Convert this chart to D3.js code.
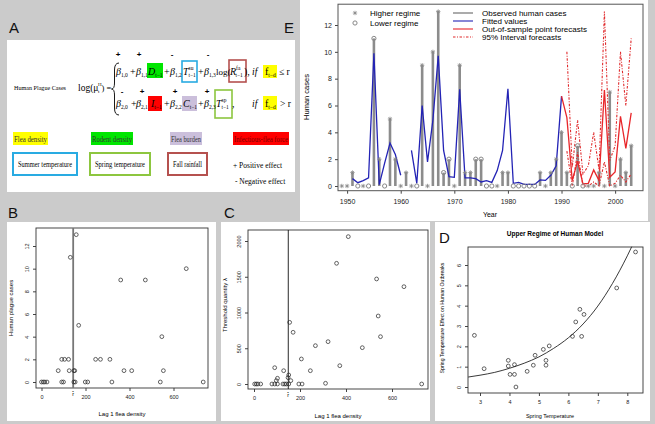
<!DOCTYPE html>
<html><head><meta charset="utf-8">
<script src="https://cdn.jsdelivr.net/npm/d3@7"></script>
<style>body{margin:0;background:#cbcbcb}svg{display:block}</style>
</head><body>
<script>
// ---------- DATA ----------
// Panel E
const yearsE = [1949,1950,1951,1952,1953,1954,1955,1956,1957,1958,1959,1960,1961,1962,1963,1964,1965,1966,1967,1968,1969,1970,1971,1972,1973,1974,1975,1976,1977,1978,1979,1980,1981,1982,1983,1984,1985,1986,1987,1988,1989,1990,1991,1992,1993,1994,1995,1996,1997,1998,1999,2000,2001,2002,2003];
const observedCases = [0,0,1,0,0,0,11,2,0,5,2,0,1,0,0,9,0,10,13,1,2,0,9,1,1,2,2,0,0,0,1,1,0,0,0,0,0,1,0,1,2,4,1,0,3,0,0,0,1,0,7,0,2,1,3];
const regime = ["H","H","H","L","H","L","L","H","L","H","H","H","H","H","L","H","H","H","H","L","L","H","H","H","H","L","L","L","L","H","H","H","L","L","L","L","L","H","H","H","H","H","H","L","L","L","H","H","H","H","H","H","H","H","H"];
const fittedYears = [1951,1952,1953,1954,1955,1956,1957,1958,1959,1960,1961,1962,1963,1964,1965,1966,1967,1968,1969,1970,1971,1972,1973,1974,1975,1976,1977,1978,1979,1980,1981,1982,1983,1984,1985,1986,1987,1988,1989,1990];
const fittedValues = [0.55,0.25,0.4,0.6,9.9,0.1,1.7,3.2,2.35,0.8,null,2.65,0.2,6.0,1.8,4.9,9.7,2.65,0.7,0.65,7.2,0.6,0.6,0.55,0.3,0.4,0.27,1.15,2.65,7.25,0.2,0.27,0.12,0.12,0.12,0.45,0.42,0.8,1.5,6.7];
const forecastYears = [1990,1991,1992,1993,1994,1995,1996,1997,1998,1999,2000,2001,2002,2003];
const forecastValues = [6.7,5.1,0.4,1.85,0.15,0.2,1.2,0.4,7.15,0.65,1.05,5.2,2.8,5.45];
const intervalYears = [1991,1992,1993,1994,1995,1996,1997,1998,1999,2000,2001,2002,2003];
const upperInterval = [10.0,1.4,4.9,0.9,1.5,4.0,1.2,13.0,1.9,3.0,10.0,6.0,11.0];
const lowerInterval = [2.6,0.0,2.5,0.0,0.0,0.3,0.0,1.8,0.0,0.2,0.8,0.3,0.9];
const yTicksE = [0,2,4,6,8,10,12];
const xTicksE = [1950,1960,1970,1980,1990,2000];

// Panel B
const fleaB  = [0,8,15,25,92,100,147,153,199,210,320,540,735, 76,126,147,151,375,410,554, 92,105,123,246,268,311, 547,169,360,472,658,131,158];
const casesB = [0,0,0,0,0,0,0,0,0,0,0,0,0, 1,1,1,1,1,1,1, 2,2,2,2,2,2, 4,5,9,9,10,11,13];
const yTicksB = [0,2,4,6,8,10,12];
const xTicksBC = [0,200,400,600];
const thresholdR = 144;

// Panel C
const fleaC   = [3,10,17,29,78,90,102,126,134,141,151,195,209,311,729,90,102,97,129,151,148,160,155,170,206,245,267,322,373,359,410,471,533,540,550,652];
const lambdaC = [0,0,0,0,0,0,0,0,0,0,0,0,0,10,0,228,80,47,186,126,89,47,862,723,350,186,536,592,256,1688,2061,508,1469,951,662,1361];
const yTicksC = [0,500,1000,1500,2000];
const thresholdRC = 149;

// Panel D
const springTemp = [2.81,3.14,3.96,3.96,4.02,4.17,4.17,4.22,4.6,4.81,4.87,5.15,5.24,5.24,5.35,6.14,6.25,6.39,6.45,6.53,7.64,8.28];
const springEffect = [2.54,0.9,1.31,1.03,0.62,1.10,0.62,0.0,0.77,1.07,1.56,1.85,1.31,1.07,2.02,2.49,3.2,3.82,2.49,3.57,4.87,6.64];
const curveX = [2.6,3.0,3.5,4.0,4.5,5.0,5.5,6.0,6.5,7.0,7.5,8.0,8.15];
const curveY = [0.49,0.58,0.72,0.92,1.17,1.48,1.9,2.42,3.1,3.98,5.1,6.45,6.9];
const yTicksD = [0,1,2,3,4,5,6];
const xTicksD = [3,4,5,6,7,8];

// ---------- DRAW ----------
const W = 655, H = 424;
const svg = d3.select("body").append("svg").attr("width", W).attr("height", H);
svg.append("rect").attr("width", W).attr("height", H).attr("fill", "#cbcbcb");
const SANS = "'Liberation Sans', Arial, Helvetica, sans-serif";
const SERIF = "'Liberation Serif', 'Times New Roman', serif";

function asterisk(g, cx, cy, r, color) {
  const k = r * 0.7;
  g.append("path").attr("d",
    `M${cx-r},${cy}L${cx+r},${cy}M${cx},${cy-r}L${cx},${cy+r}M${cx-k},${cy-k}L${cx+k},${cy+k}M${cx-k},${cy+k}L${cx+k},${cy-k}`)
    .attr("stroke", color).attr("stroke-width", 0.8).attr("fill", "none");
}
function panelLetter(t, x, y) {
  svg.append("text").attr("x", x).attr("y", y).text(t)
    .attr("font-family", SANS).attr("font-size", 15).attr("fill", "#111");
}

// ---------- Panel A ----------
const A = svg.append("g");
A.append("rect").attr("x", 7).attr("y", 40).attr("width", 288).attr("height", 152).attr("fill", "#fff");
panelLetter("A", 9, 33);
panelLetter("E", 284, 33);

A.append("text").attr("x", 14).attr("y", 90).text("Human Plague Cases")
  .attr("font-family", SERIF).attr("font-size", 7).attr("textLength", 52).attr("lengthAdjust", "spacingAndGlyphs");
A.append("text").attr("x", 78).attr("y", 91).attr("font-family", SERIF).attr("font-size", 9.5).text("log(μ");
A.append("text").attr("x", 98).attr("y", 86).attr("font-family", SERIF).attr("font-size", 5).text("H");
A.append("text").attr("x", 98).attr("y", 93).attr("font-family", SERIF).attr("font-size", 5).text("t");
A.append("text").attr("x", 101.5).attr("y", 91).attr("font-family", SERIF).attr("font-size", 8.5).text(") =");
A.append("path").attr("d", "M119,63 Q114.5,63 114.5,70 L114.5,83 Q114.5,89 111.5,89 Q114.5,89 114.5,95 L114.5,108 Q114.5,115 119,115")
  .attr("fill", "none").attr("stroke", "#000").attr("stroke-width", 0.9);

// colored boxes
const boxes = [
  {x:147,y:63,w:16,h:15,fill:"#00e600"},
  {x:182,y:61,w:15,h:21,fill:"none",stroke:"#29abe2"},
  {x:229,y:60,w:17,h:22,fill:"none",stroke:"#b5514f"},
  {x:263,y:65,w:14,h:13,fill:"#ffff00"},
  {x:148,y:96,w:14,h:15,fill:"#ff0000"},
  {x:182,y:96,w:15,h:15,fill:"#cbbfdb"},
  {x:215,y:90,w:17,h:28,fill:"none",stroke:"#8dc63f"},
  {x:263,y:96,w:14,h:14,fill:"#ffff00"}
];
boxes.forEach(b => A.append("rect").attr("x", b.x).attr("y", b.y).attr("width", b.w).attr("height", b.h)
  .attr("fill", b.fill).attr("stroke", b.stroke || "none").attr("stroke-width", 1.6));

function term(x, y, main, sub, sup, italic) {
  const t = A.append("text").attr("x", x).attr("y", y).attr("font-family", SERIF).attr("font-size", 10);
  const m = t.append("tspan").text(main);
  if (italic) m.attr("font-style", "italic");
  if (sup) {
    t.append("tspan").attr("font-size", 5.5).attr("dy", -5).text(sup);
    t.append("tspan").attr("font-size", 5.5).attr("dx", -5).attr("dy", 7).text(sub);
  } else if (sub) {
    t.append("tspan").attr("font-size", 5.5).attr("dy", 2).text(sub);
  }
  return t;
}
function plain(x, y, s, size, italic) {
  const t = A.append("text").attr("x", x).attr("y", y).text(s).attr("font-family", SERIF).attr("font-size", size || 10);
  if (italic) t.attr("font-style", "italic");
}
// row 1
term(116, 75, "β", "1,0", null, true); plain(130, 75, "+");
term(136, 75, "β", "1,1", null, true); term(148, 75, "D", "t−1", null, true); plain(164, 75, "+");
term(170, 75, "β", "1,2", null, true); term(183, 75, "T", "t−1", "su", true); plain(198, 75, "+");
term(204, 75, "β", "1,3", null, true); plain(216, 75, "log(", 9);
term(230, 75, "R", "t−1", "fa", true); plain(244, 75, "),");
plain(252, 75, "if", 9.5, true); term(265, 75, "f", "t−d", null, false); plain(279, 75, "≤ r", 9.5);
// row 2
term(116, 107, "β", "2,0", null, true); plain(131, 107, "+");
term(136, 107, "β", "2,1", null, true); term(151, 107, "I", "t−1", null, true); plain(164, 107, "+");
term(170, 107, "β", "2,2", null, true); term(183, 107, "C", "t−1", null, true); plain(198, 107, "+");
term(204, 107, "β", "2,3", null, true); term(216, 107, "T", "t−1", "sp", true); plain(232, 107, ",");
plain(252, 107, "if", 9.5, true); term(265, 107, "f", "t−d", null, false); plain(280, 107, "> r", 9.5);
// signs
[[118,57,"+"],[139,57,"+"],[172,57,"-"],[208,57,"-"],[122,94,"-"],[142,94,"+"],[175,94,"+"],[207,94,"+"]]
  .forEach(s => A.append("text").attr("x", s[0]).attr("y", s[1]).text(s[2]).attr("text-anchor", "middle")
    .attr("font-family", SANS).attr("font-size", 8).attr("font-weight", "bold"));

// legend
const legFill = [
  {x:13,w:35,fill:"#ffff00",t:"Flea density",c:"#333"},
  {x:91,w:42,fill:"#00e600",t:"Rodent density",c:"#333"},
  {x:170,w:32,fill:"#cbbfdb",t:"Flea burden",c:"#333"},
  {x:233,w:56,fill:"#ff0000",t:"Infectious-flea force",c:"#7a0000"}
];
legFill.forEach(l => {
  A.append("rect").attr("x", l.x).attr("y", 132).attr("width", l.w).attr("height", 13).attr("fill", l.fill);
  A.append("text").attr("x", l.x + 1).attr("y", 141.5).text(l.t).attr("font-family", SERIF)
    .attr("font-size", 7.5).attr("fill", l.c).attr("textLength", l.w - 2).attr("lengthAdjust", "spacingAndGlyphs");
});
const legOut = [
  {x:13,w:64,stroke:"#29abe2",t:"Summer temperature"},
  {x:90,w:60,stroke:"#8dc63f",t:"Spring temperature"},
  {x:168,w:39,stroke:"#b5514f",t:"Fall rainfall"}
];
legOut.forEach(l => {
  A.append("rect").attr("x", l.x).attr("y", 153).attr("width", l.w).attr("height", 22)
    .attr("fill", "none").attr("stroke", l.stroke).attr("stroke-width", 2);
  A.append("text").attr("x", l.x + l.w / 2).attr("y", 167).text(l.t).attr("text-anchor", "middle")
    .attr("font-family", SERIF).attr("font-size", 7.5).attr("textLength", l.w - 10).attr("lengthAdjust", "spacingAndGlyphs");
});
A.append("text").attr("x", 233).attr("y", 168).text("+ Positive effect").attr("font-family", SERIF).attr("font-size", 7.5);
A.append("text").attr("x", 235).attr("y", 184).text("-  Negative effect").attr("font-family", SERIF).attr("font-size", 7.5);

// ---------- Panel E ----------
const E = svg.append("g");
E.append("rect").attr("x", 300).attr("y", 0).attr("width", 348).attr("height", 221).attr("fill", "#fff");
const xE = d3.scaleLinear().domain([1948.3, 2005.2]).range([338, 643]);
const yE = d3.scaleLinear().domain([0, 12]).range([186, 25]);
const frameE = {x0: 338, x1: 643, y0: yE(13.55), y1: yE(-0.35)};
E.append("g").attr("transform", `translate(0,${frameE.y1})`)
  .call(d3.axisBottom(xE).tickValues(xTicksE).tickFormat(d3.format("d")).tickSize(3).tickPadding(5))
  .call(g => { g.select(".domain").remove(); g.selectAll("line").attr("stroke", "#444");
    g.selectAll("text").attr("font-family", SANS).attr("font-size", 7).attr("fill", "#222"); });
E.append("g").attr("transform", `translate(${frameE.x0},0)`)
  .call(d3.axisLeft(yE).tickValues(yTicksE).tickSize(3).tickPadding(3))
  .call(g => { g.select(".domain").remove(); g.selectAll("line").attr("stroke", "#444");
    g.selectAll("text").attr("font-family", SANS).attr("font-size", 7).attr("fill", "#222"); });
E.append("rect").attr("x", frameE.x0).attr("y", frameE.y0).attr("width", frameE.x1 - frameE.x0)
  .attr("height", frameE.y1 - frameE.y0).attr("fill", "none").attr("stroke", "#555").attr("stroke-width", 1);
E.append("text").attr("x", 490).attr("y", 217).attr("text-anchor", "middle").text("Year")
  .attr("font-family", SANS).attr("font-size", 7);
E.append("text").attr("transform", "translate(309,97) rotate(-90)").attr("text-anchor", "middle").text("Human cases")
  .attr("font-family", SANS).attr("font-size", 7.5);

// bars
const obs = yearsE.map((y, i) => ({year: y, v: observedCases[i], r: regime[i]}));
E.append("g").selectAll("line").data(obs.filter(d => d.v > 0)).join("line")
  .attr("x1", d => xE(d.year)).attr("x2", d => xE(d.year)).attr("y1", yE(0)).attr("y2", d => yE(d.v))
  .attr("stroke", "#8c8c8c").attr("stroke-width", 2.6);
// fitted
const lineE = d3.line().defined(d => d.v !== null).x(d => xE(d.year)).y(d => yE(d.v));
E.append("path").datum(fittedYears.map((y, i) => ({year: y, v: fittedValues[i]})))
  .attr("d", lineE).attr("fill", "none").attr("stroke", "#2323b5").attr("stroke-width", 1.3);
// intervals
[upperInterval, lowerInterval].forEach(arr => {
  E.append("path").datum(intervalYears.map((y, i) => ({year: y, v: arr[i]})))
    .attr("d", lineE).attr("fill", "none").attr("stroke", "#e0282a").attr("stroke-width", 1.1)
    .attr("stroke-dasharray", "2.5,1.5,1,1.5");
});
E.append("path").datum(forecastYears.map((y, i) => ({year: y, v: forecastValues[i]})))
  .attr("d", lineE).attr("fill", "none").attr("stroke", "#e8262a").attr("stroke-width", 1.3);
// markers
obs.forEach(d => {
  const cx = xE(d.year), cy = yE(d.v);
  if (d.r === "H") asterisk(E, cx, cy, 2.2, "#888");
  else E.append("circle").attr("cx", cx).attr("cy", cy).attr("r", 2.1).attr("fill", "none")
    .attr("stroke", "#888").attr("stroke-width", 1);
});
// legend E
asterisk(E, 355, 13, 2.2, "#888");
E.append("circle").attr("cx", 355).attr("cy", 23).attr("r", 2.1).attr("fill", "none").attr("stroke", "#888");
E.append("text").attr("x", 370).attr("y", 16).text("Higher regime").attr("font-family", SANS).attr("font-size", 8);
E.append("text").attr("x", 370).attr("y", 26).text("Lower regime").attr("font-family", SANS).attr("font-size", 8);
const legE = [
  {t:"Observed human cases", c:"#666", dash:null},
  {t:"Fitted values", c:"#2323b5", dash:null},
  {t:"Out-of-sample point forecasts", c:"#e8262a", dash:null},
  {t:"95% Interval forecasts", c:"#e0282a", dash:"2.5,1.5,1,1.5"}
];
legE.forEach((l, i) => {
  const y = 13 + i * 8;
  const ln = E.append("line").attr("x1", 453).attr("x2", 473).attr("y1", y).attr("y2", y)
    .attr("stroke", l.c).attr("stroke-width", 1.1);
  if (l.dash) ln.attr("stroke-dasharray", l.dash);
  E.append("text").attr("x", 482).attr("y", y + 3).text(l.t).attr("font-family", SANS).attr("font-size", 8);
});

// ---------- helper for small R-style scatter panels ----------
function rAxes(g, x, y, frame, xt, yt, fs) {
  g.append("g").attr("transform", `translate(0,${frame.y1})`)
    .call(d3.axisBottom(x).tickValues(xt).tickSize(3).tickPadding(4).tickFormat(d3.format("d")))
    .call(a => { a.select(".domain").remove(); a.selectAll("line").attr("stroke", "#444");
      a.selectAll("text").attr("font-family", SANS).attr("font-size", fs).attr("fill", "#222"); });
  const ya = g.append("g").attr("transform", `translate(${frame.x0},0)`)
    .call(d3.axisLeft(y).tickValues(yt).tickSize(3).tickFormat(d3.format("d")));
  ya.select(".domain").remove();
  ya.selectAll("line").attr("stroke", "#444");
  ya.selectAll("text").attr("x", null).attr("dy", null)
    .attr("transform", "translate(-7,0) rotate(-90)").attr("text-anchor", "middle")
    .attr("font-family", SANS).attr("font-size", fs).attr("fill", "#222");
  g.append("rect").attr("x", frame.x0).attr("y", frame.y0).attr("width", frame.x1 - frame.x0)
    .attr("height", frame.y1 - frame.y0).attr("fill", "none").attr("stroke", "#333").attr("stroke-width", 0.9);
}
function circles(g, xs, ys, x, y) {
  g.append("g").selectAll("circle").data(xs.map((v, i) => [v, ys[i]])).join("circle")
    .attr("cx", d => x(d[0])).attr("cy", d => y(d[1])).attr("r", 1.9)
    .attr("fill", "none").attr("stroke", "#222").attr("stroke-width", 0.7);
}

// ---------- Panel B ----------
const B = svg.append("g");
B.append("rect").attr("x", 7).attr("y", 222).attr("width", 209).attr("height", 199).attr("fill", "#fff");
panelLetter("B", 8, 218);
const xB = d3.scaleLinear().domain([0, 200]).range([41.5, 85.5]);
const yB = d3.scaleLinear().domain([0, 12]).range([382, 246]);
const frameB = {x0: 36, x1: 208, y0: 228, y1: 388};
rAxes(B, xB, yB, frameB, xTicksBC, yTicksB, 5.5);
B.append("line").attr("x1", xB(thresholdR)).attr("x2", xB(thresholdR)).attr("y1", frameB.y0).attr("y2", frameB.y1)
  .attr("stroke", "#777").attr("stroke-width", 1.8);
B.append("text").attr("x", xB(thresholdR)).attr("y", 396).attr("text-anchor", "middle").text("r̂")
  .attr("font-family", SANS).attr("font-size", 5.5);
circles(B, fleaB, casesB, xB, yB);
B.append("text").attr("x", 122).attr("y", 416).attr("text-anchor", "middle").text("Lag 1 flea density")
  .attr("font-family", SANS).attr("font-size", 6);
B.append("text").attr("transform", "translate(13,308) rotate(-90)").attr("text-anchor", "middle")
  .text("Human plague cases").attr("font-family", SANS).attr("font-size", 6);

// ---------- Panel C ----------
const C = svg.append("g");
C.append("rect").attr("x", 221).attr("y", 222).attr("width", 209).attr("height", 199).attr("fill", "#fff");
panelLetter("C", 224, 218);
const xC = d3.scaleLinear().domain([0, 200]).range([254, 300]);
const yC = d3.scaleLinear().domain([0, 2000]).range([384, 241]);
const frameC = {x0: 248, x1: 428, y0: 230, y1: 389};
rAxes(C, xC, yC, frameC, xTicksBC, yTicksC, 5.5);
C.append("line").attr("x1", xC(thresholdRC)).attr("x2", xC(thresholdRC)).attr("y1", frameC.y0).attr("y2", frameC.y1)
  .attr("stroke", "#111").attr("stroke-width", 0.9);
C.append("text").attr("x", xC(thresholdRC)).attr("y", 397).attr("text-anchor", "middle").text("r̂")
  .attr("font-family", SANS).attr("font-size", 5.5);
circles(C, fleaC, lambdaC, xC, yC);
C.append("text").attr("x", 338).attr("y", 418).attr("text-anchor", "middle").text("Lag 1 flea density")
  .attr("font-family", SANS).attr("font-size", 6);
C.append("text").attr("transform", "translate(227,305) rotate(-90)").attr("text-anchor", "middle")
  .text("Threshold quantity  λ").attr("font-family", SANS).attr("font-size", 6);

// ---------- Panel D ----------
const D = svg.append("g");
D.append("rect").attr("x", 435).attr("y", 222).attr("width", 215).attr("height", 199).attr("fill", "#fff");
panelLetter("D", 439, 243);
const xD = d3.scaleLinear().domain([3, 8]).range([480, 627.3]);
const yD = d3.scaleLinear().domain([0, 6]).range([387, 265]);
const frameD = {x0: 468, x1: 643, y0: 247, y1: 393};
rAxes(D, xD, yD, frameD, xTicksD, yTicksD, 5.5);
D.append("path").datum(curveX.map((v, i) => [v, curveY[i]]))
  .attr("d", d3.line().x(d => xD(d[0])).y(d => yD(d[1])).curve(d3.curveMonotoneX))
  .attr("fill", "none").attr("stroke", "#222").attr("stroke-width", 0.9);
circles(D, springTemp, springEffect, xD, yD);
D.append("text").attr("x", 555).attr("y", 236).attr("text-anchor", "middle").text("Upper Regime of Human Model")
  .attr("font-family", SANS).attr("font-size", 6.5).attr("font-weight", "bold");
D.append("text").attr("x", 550).attr("y", 418).attr("text-anchor", "middle").text("Spring Temperature")
  .attr("font-family", SANS).attr("font-size", 5.5);
D.append("text").attr("transform", "translate(444,318) rotate(-90)").attr("text-anchor", "middle")
  .text("Spring Temperature Effect on Human Outbreaks").attr("font-family", SANS).attr("font-size", 5.2);
</script>
</body></html>
